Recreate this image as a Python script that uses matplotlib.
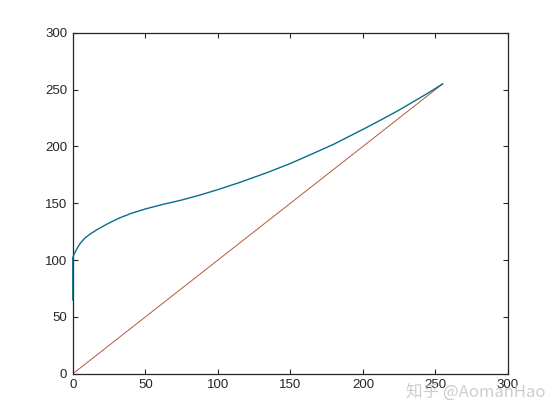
import matplotlib
matplotlib.use("Agg")
import matplotlib.pyplot as plt

# Blue tone curve
curve_x = [0, 0, 0.5, 1, 2, 3, 5, 8, 12, 17, 24, 32, 40, 50, 62, 74, 87, 100, 115, 134, 150, 166, 180, 190, 200, 212, 225, 235, 245, 255]
curve_y = [65, 102, 104, 105.5, 108, 110.5, 114.5, 119, 123, 127, 132, 137, 141, 145, 149, 152.5, 157, 162, 168.3, 177, 185, 194, 202, 208.5, 215, 223, 232, 239.5, 247, 255]

# Red identity line
line_x = [0, 255]
line_y = [0, 255]

xticks = [0, 50, 100, 150, 200, 250, 300]
yticks = [0, 50, 100, 150, 200, 250, 300]

plt.rcParams['font.family'] = ['Liberation Sans', 'DejaVu Sans']

fig = plt.figure(figsize=(5.6, 4.2), dpi=100)
ax = fig.add_axes([0.13, 0.11, 0.777, 0.812])

ax.plot(curve_x, curve_y, color='#0a6c8c', linewidth=1.0, zorder=3, clip_on=False)
ax.plot(line_x, line_y, color='#b5583a', linewidth=0.7, zorder=2)

ax.set_xlim(0, 300)
ax.set_ylim(0, 300)
ax.set_xticks(xticks)
ax.set_yticks(yticks)
ax.tick_params(direction='in', top=True, right=True, length=3.5, width=0.8,
               labelsize=9.5, colors='#262626', pad=4)
for s in ax.spines.values():
    s.set_linewidth(0.9)
    s.set_color('#262626')

fig.text(0.725, 0.055, '知乎 @AomanHao', fontsize=12, color='#c8c8c8',
         family=['Noto Sans CJK SC', 'DejaVu Sans'], alpha=0.9)

fig.savefig('out.png', dpi=100)
